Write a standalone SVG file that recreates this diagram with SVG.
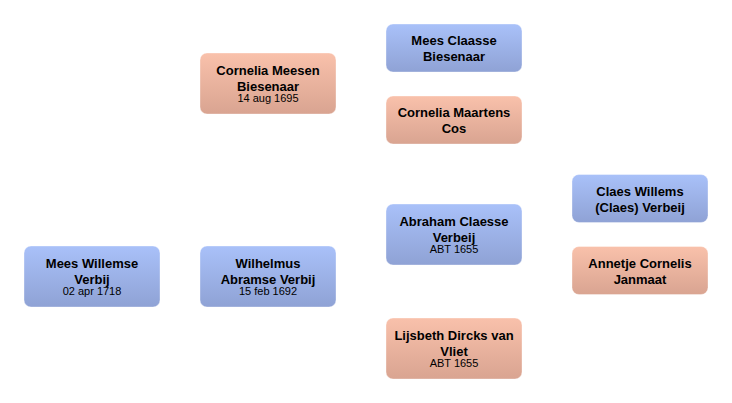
<svg xmlns="http://www.w3.org/2000/svg" width="732" height="403" viewBox="0 0 732 403">
<defs>
<linearGradient id="gBlue" x1="0" y1="0" x2="0" y2="1">
<stop offset="0" stop-color="#a9c1f9"/>
<stop offset="1" stop-color="#8fa2d5"/>
</linearGradient>
<linearGradient id="gPink" x1="0" y1="0" x2="0" y2="1">
<stop offset="0" stop-color="#f9c1ab"/>
<stop offset="1" stop-color="#d9a491"/>
</linearGradient>
</defs>
<style>
.m rect{fill:url(#gBlue);}
.f rect{fill:url(#gPink);}
rect{stroke:#ffffff;stroke-opacity:0.35;stroke-width:1;}
.n{font-family:"Liberation Sans",Arial,sans-serif;font-weight:bold;font-size:13px;fill:#000;text-anchor:middle;}
.d{font-family:"Liberation Sans",Arial,sans-serif;font-size:11px;fill:#000;text-anchor:middle;}
</style>
<rect width="732" height="403" fill="#ffffff" stroke="none"/>
<g id="connectors"></g>
<g id="mees-willemse-verbij" class="m">
<rect x="24" y="246" width="136" height="61" rx="7"/>
<text class="n" x="92" y="267.5">Mees Willemse</text>
<text class="n" x="92" y="283.5">Verbij</text>
<text class="d" x="92" y="295">02 apr 1718</text>
</g>
<g id="wilhelmus-abramse-verbij" class="m">
<rect x="200" y="246" width="136" height="61" rx="7"/>
<text class="n" x="268" y="267.5">Wilhelmus</text>
<text class="n" x="268" y="283.5">Abramse Verbij</text>
<text class="d" x="268" y="295">15 feb 1692</text>
</g>
<g id="cornelia-meesen-biesenaar" class="f">
<rect x="200" y="53" width="136" height="61" rx="7"/>
<text class="n" x="268" y="75">Cornelia Meesen</text>
<text class="n" x="268" y="90.5">Biesenaar</text>
<text class="d" x="268" y="102">14 aug 1695</text>
</g>
<g id="mees-claasse-biesenaar" class="m">
<rect x="386" y="24" width="136" height="48" rx="7"/>
<text class="n" x="454" y="45">Mees Claasse</text>
<text class="n" x="454" y="61">Biesenaar</text>
</g>
<g id="cornelia-maartens-cos" class="f">
<rect x="386" y="96" width="136" height="48" rx="7"/>
<text class="n" x="454" y="117">Cornelia Maartens</text>
<text class="n" x="454" y="133">Cos</text>
</g>
<g id="abraham-claesse-verbeij" class="m">
<rect x="386" y="204" width="136" height="61" rx="7"/>
<text class="n" x="454" y="225.5">Abraham Claesse</text>
<text class="n" x="454" y="241.5">Verbeij</text>
<text class="d" x="454" y="253">ABT 1655</text>
</g>
<g id="lijsbeth-dircks-van-vliet" class="f">
<rect x="386" y="318" width="136" height="61" rx="7"/>
<text class="n" x="454" y="339.5">Lijsbeth Dircks van</text>
<text class="n" x="454" y="355.5">Vliet</text>
<text class="d" x="454" y="367">ABT 1655</text>
</g>
<g id="claes-willems-verbeij" class="m">
<rect x="572" y="174.5" width="136" height="48" rx="7"/>
<text class="n" x="640" y="195.5">Claes Willems</text>
<text class="n" x="640" y="211.5">(Claes) Verbeij</text>
</g>
<g id="annetje-cornelis-janmaat" class="f">
<rect x="572" y="246.5" width="136" height="48" rx="7"/>
<text class="n" x="640" y="267.5">Annetje Cornelis</text>
<text class="n" x="640" y="283.5">Janmaat</text>
</g>
</svg>
